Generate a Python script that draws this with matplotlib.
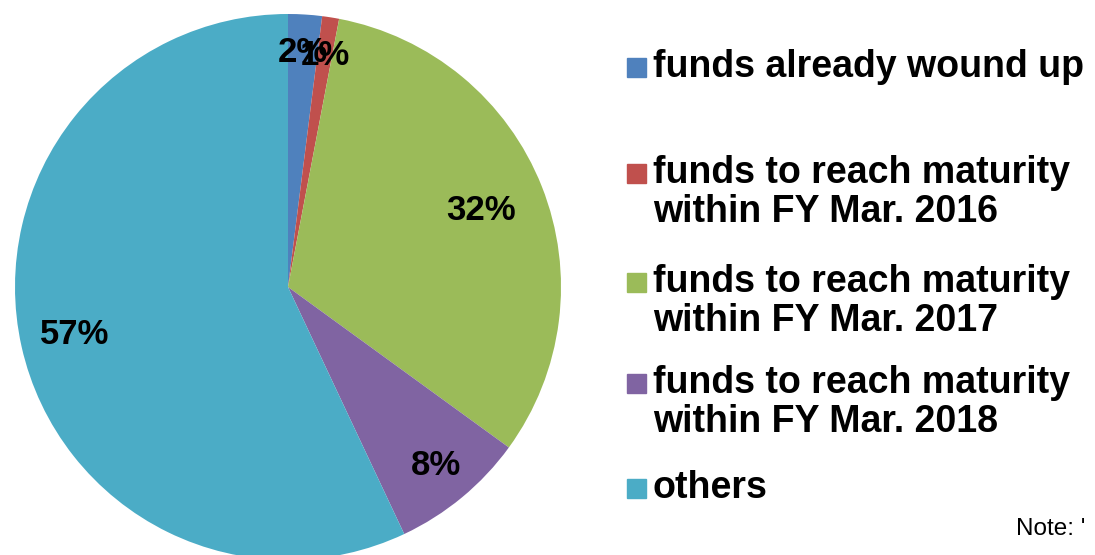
import matplotlib
matplotlib.use('Agg')

import matplotlib.pyplot as plt
from matplotlib.patches import Rectangle

# share of funds by maturity status (percent)
categories = [
    'funds already wound up',
    'funds to reach maturity\nwithin FY Mar. 2016',
    'funds to reach maturity\nwithin FY Mar. 2017',
    'funds to reach maturity\nwithin FY Mar. 2018',
    'others',
]
shares = [2, 1, 32, 8, 57]
colors = ['#4F81BD', '#C0504D', '#9BBB59', '#8064A2', '#4BACC6']

# radial position of each percentage label (fraction of radius)
label_radius = [0.86, 0.86, 0.76, 0.85, 0.80]

plt.rcParams['font.family'] = ['Liberation Sans', 'DejaVu Sans']

W, H = 1095, 555
fig = plt.figure(figsize=(W / 100, H / 100), dpi=100)

cx, cy, r = 288, 287, 273
ax = fig.add_axes([(cx - r) / W, (H - cy - r) / H, 2 * r / W, 2 * r / H])
wedges, texts, autotexts = ax.pie(
    shares, colors=colors, startangle=90, counterclock=False,
    autopct=lambda p: '%d%%' % round(p), pctdistance=0.8,
    wedgeprops=dict(linewidth=0), radius=1,
    textprops=dict(fontsize=25, fontweight='bold', color='black'))

# move each label out to its own radius
for t, rad in zip(autotexts, label_radius):
    x, y = t.get_position()
    k = rad / 0.8
    t.set_position((x * k, y * k))

ax.set_xlim(-1, 1)
ax.set_ylim(-1, 1)
ax.set_aspect('auto')
ax.axis('off')

# legend drawn by hand: square + label, first line centred on the square
legend_y = [67, 173, 282, 383, 488]
sq = 19
for name, col, y in zip(categories, colors, legend_y):
    fig.patches.append(Rectangle((627 / W, (H - y - sq / 2) / H), sq / W, sq / H,
                                 transform=fig.transFigure, color=col))
    fig.text(653 / W, (H - y + 18) / H, name, fontsize=27, fontweight='bold',
             va='top', ha='left', linespacing=1.12)

fig.text(1016 / W, (H - 535) / H, "Note: '", fontsize=17.5, ha='left', va='baseline')

fig.savefig('out.png', dpi=100)
